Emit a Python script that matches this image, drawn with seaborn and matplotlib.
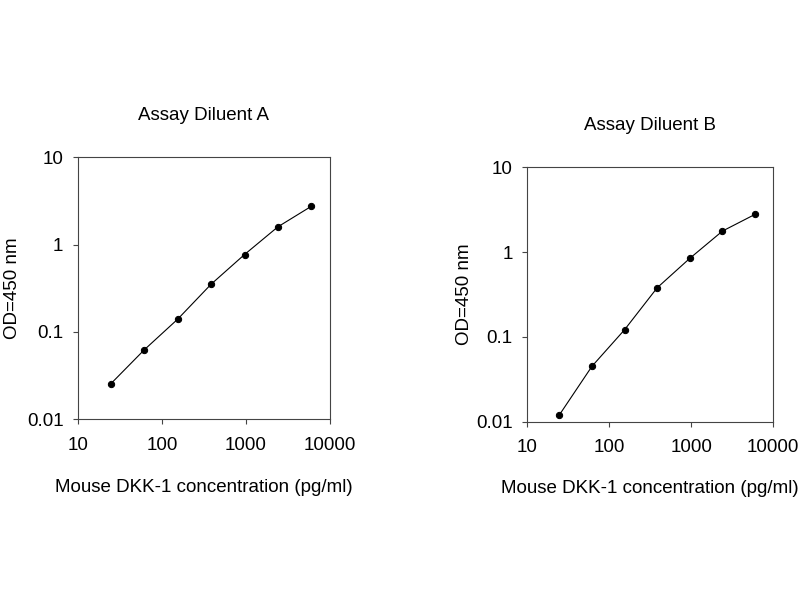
import matplotlib
matplotlib.use("Agg")
import matplotlib.pyplot as plt
import seaborn as sns
import pandas as pd
from matplotlib.ticker import FixedLocator, FixedFormatter, NullLocator

sns.set_style("white")
plt.rcParams['font.family'] = ['Liberation Sans', 'DejaVu Sans']
plt.rcParams['text.color'] = 'black'
plt.rcParams['axes.labelcolor'] = 'black'

concentration = [24.576, 61.44, 153.6, 384, 960, 2400, 6000]
od_diluent_a = [0.0255, 0.0624, 0.14, 0.352, 0.77, 1.6, 2.75]
od_diluent_b = [0.012, 0.045, 0.1216, 0.38, 0.845, 1.77, 2.79]

titles = ["Assay Diluent A", "Assay Diluent B"]
x_ticks = [10, 100, 1000, 10000]
x_tick_labels = ["10", "100", "1000", "10000"]
y_ticks = [0.01, 0.1, 1, 10]
y_tick_labels = ["0.01", "0.1", "1", "10"]
x_label = "Mouse DKK-1 concentration (pg/ml)"
y_label = "OD=450 nm"

FS = 13.5

fig = plt.figure(figsize=(8, 6), dpi=100)
positions = [
    [78 / 800, 1 - 419.3 / 600, 252 / 800, 262 / 600],
    [527.3 / 800, 1 - 421.7 / 600, 246 / 800, 254.4 / 600],
]
ylabel_x = [-0.225, -0.222]
series = [od_diluent_a, od_diluent_b]

for pos, od, title, ylx in zip(positions, series, titles, ylabel_x):
    ax = fig.add_axes(pos)
    df = pd.DataFrame({"conc": concentration, "od": od})
    sns.lineplot(data=df, x="conc", y="od", ax=ax, color="black", linewidth=0.8,
                 marker="o", markersize=4.5, markeredgecolor="black")
    ax.set_xscale("log")
    ax.set_yscale("log")
    ax.set_xlim(10, 10000)
    ax.set_ylim(0.01, 10)
    ax.xaxis.set_major_locator(FixedLocator(x_ticks))
    ax.xaxis.set_major_formatter(FixedFormatter(x_tick_labels))
    ax.yaxis.set_major_locator(FixedLocator(y_ticks))
    ax.yaxis.set_major_formatter(FixedFormatter(y_tick_labels))
    ax.xaxis.set_minor_locator(NullLocator())
    ax.yaxis.set_minor_locator(NullLocator())
    ax.tick_params(axis="both", which="major", direction="out", length=3.5,
                   width=0.8, color="#444444", labelsize=FS, labelcolor="black",
                   bottom=True, left=True, top=False, right=False)
    ax.tick_params(axis="x", pad=9)
    ax.tick_params(axis="y", pad=7)
    for sp in ax.spines.values():
        sp.set_visible(True)
        sp.set_color("#444444")
        sp.set_linewidth(0.8)
    ax.set_title(title, fontsize=FS, pad=27, color="black")
    ax.set_xlabel(x_label, fontsize=FS, color="black")
    ax.set_ylabel(y_label, fontsize=FS, color="black")
    ax.xaxis.set_label_coords(0.5, -0.228)
    ax.yaxis.set_label_coords(ylx, 0.5)
    ax.grid(False)

fig.savefig("out.png", dpi=100, facecolor="white")
